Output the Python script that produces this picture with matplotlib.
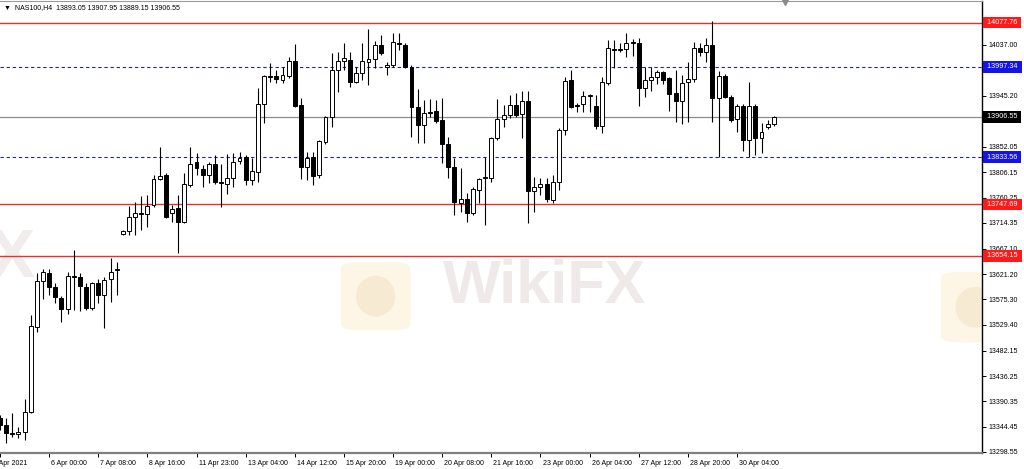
import matplotlib
matplotlib.use("Agg")
import matplotlib.pyplot as plt
from matplotlib.patches import FancyBboxPatch, Ellipse
from matplotlib.transforms import ScaledTranslation
import numpy as np

plt.rcParams['font.family'] = ['Liberation Sans', 'DejaVu Sans']

# ---------------- data (NAS100, H4) ----------------
opens = [13360.2, 13347.4, 13332.9, 13331.1, 13334.8, 13371.1, 13525.3, 13608.8, 13623.3, 13597.9,
         13577.9, 13558.0, 13617.8, 13616.0, 13597.9, 13559.8, 13605.1, 13583.3, 13612.4, 13628.7,
         13693.8, 13699.3, 13724.6, 13731.9, 13730.0, 13746.4, 13793.7, 13800.9, 13731.9, 13740.9,
         13715.5, 13782.8, 13824.6, 13811.8, 13800.9, 13820.9, 13788.2, 13784.6, 13795.5, 13826.4,
         13833.7, 13791.9, 13806.4, 13929.9, 13980.7, 13980.7, 13973.4, 13980.7, 14007.9, 13928.1,
         13815.5, 13833.7, 13800.9, 13860.9, 13906.3, 13991.6, 14007.9, 14009.8, 13969.8, 13986.1,
         14006.1, 14011.6, 14037.0, 13997.0, 14000.7, 14040.6, 14037.0, 13997.0, 13924.4, 13891.8,
         13915.4, 13917.2, 13900.9, 13857.3, 13815.5, 13750.0, 13757.3, 13731.9, 13773.7, 13795.5,
         13795.5, 13868.2, 13902.7, 13909.9, 13928.1, 13911.7, 13935.3, 13771.9, 13779.1, 13784.6,
         13755.5, 13788.2, 13882.7, 13973.4, 13928.1, 13929.9, 13944.4, 13926.3, 13890.0, 13968.0,
         14029.7, 14029.7, 14029.7, 14040.6, 14040.6, 13958.9, 13973.4, 13978.9, 13988.0, 13977.1,
         13949.9, 13935.3, 13969.8, 13975.3, 14031.5, 14024.3, 14037.0, 13940.8, 13980.7, 13942.6,
         13902.7, 13926.3, 13864.6, 13926.3, 13868.2, 13888.2, 13893.05]
closes = [13347.4, 13332.9, 13331.1, 13334.8, 13371.1, 13527.1, 13608.8, 13625.1, 13597.9, 13579.7,
          13558.0, 13617.8, 13616.0, 13599.7, 13559.8, 13605.1, 13583.3, 13610.6, 13625.1, 13630.5,
          13699.3, 13724.6, 13731.9, 13730.0, 13744.6, 13793.7, 13799.1, 13724.6, 13739.1, 13715.5,
          13784.6, 13820.9, 13813.7, 13800.9, 13820.9, 13788.2, 13786.4, 13795.5, 13824.6, 13831.9,
          13791.9, 13808.2, 13929.9, 13980.7, 13978.9, 13975.3, 13982.5, 14007.9, 13926.3, 13815.5,
          13831.9, 13799.1, 13862.7, 13906.3, 13991.6, 14007.9, 14013.4, 13969.8, 13986.1, 14007.9,
          14011.6, 14037.0, 14022.4, 14000.7, 14042.4, 14038.8, 13997.0, 13924.4, 13891.8, 13913.5,
          13913.5, 13899.0, 13857.3, 13815.5, 13751.9, 13757.3, 13731.9, 13775.5, 13793.7, 13797.3,
          13868.2, 13902.7, 13909.9, 13928.1, 13909.9, 13935.3, 13771.9, 13779.1, 13784.6, 13757.3,
          13788.2, 13882.7, 13971.6, 13924.4, 13926.3, 13944.4, 13946.2, 13890.0, 13969.8, 14031.5,
          14027.9, 14027.9, 14040.6, 14042.4, 13958.9, 13973.4, 13978.9, 13988.0, 13973.4, 13948.0,
          13935.3, 13968.0, 13975.3, 14031.5, 14024.3, 14037.0, 13940.8, 13980.7, 13942.6, 13900.9,
          13926.3, 13864.6, 13926.3, 13868.2, 13879.1, 13893.6, 13906.55]
highs = [13365.6, 13360.2, 13369.3, 13343.8, 13394.6, 13547.0, 13623.3, 13630.5, 13630.5, 13605.1,
         13581.5, 13625.1, 13664.8, 13623.3, 13605.1, 13607.0, 13612.4, 13616.0, 13650.5, 13643.2,
         13701.1, 13744.6, 13751.9, 13762.8, 13764.6, 13800.9, 13851.9, 13804.6, 13746.4, 13764.6,
         13804.6, 13851.9, 13840.9, 13819.1, 13824.6, 13837.3, 13820.9, 13839.1, 13840.9, 13842.8,
         13837.3, 13831.9, 13958.9, 13982.5, 14004.3, 13991.6, 13997.0, 14015.2, 14038.8, 13940.8,
         13842.8, 13842.8, 13864.6, 13908.1, 14022.4, 14024.3, 14040.6, 14024.3, 13997.0, 14040.6,
         14066.0, 14044.2, 14055.1, 14006.1, 14058.7, 14058.7, 14040.6, 14000.7, 13957.1, 13937.2,
         13939.0, 13937.2, 13940.8, 13870.0, 13831.9, 13813.7, 13768.2, 13779.1, 13795.5, 13833.7,
         13870.0, 13939.0, 13928.1, 13946.2, 13949.9, 13953.5, 13953.5, 13797.3, 13795.5, 13795.5,
         13800.9, 13886.4, 13978.9, 13991.6, 13931.7, 13953.5, 13948.0, 13946.2, 13978.9, 14046.0,
         14046.0, 14040.6, 14058.7, 14047.8, 14049.7, 13997.0, 13997.0, 13991.6, 13989.8, 13978.9,
         13991.6, 13982.5, 14006.1, 14042.4, 14040.6, 14049.7, 14080.5, 13989.8, 13984.3, 13946.2,
         13929.9, 13929.9, 13969.8, 13929.9, 13895.4, 13900.9, 13907.95]
lows = [13338.4, 13314.8, 13325.7, 13323.9, 13320.3, 13369.3, 13516.2, 13576.1, 13583.3, 13568.8,
        13534.4, 13548.9, 13556.1, 13554.3, 13556.1, 13556.1, 13568.8, 13523.5, 13570.7, 13583.3,
        13692.0, 13692.0, 13692.0, 13701.1, 13706.4, 13742.8, 13791.9, 13722.8, 13715.5, 13659.6,
        13713.7, 13779.1, 13800.9, 13779.1, 13786.4, 13784.6, 13742.8, 13766.4, 13779.1, 13820.9,
        13782.8, 13782.8, 13788.2, 13895.4, 13969.8, 13968.0, 13968.0, 13977.1, 13924.4, 13793.7,
        13791.9, 13782.8, 13795.5, 13857.3, 13888.2, 13951.7, 13991.6, 13960.7, 13968.0, 13973.4,
        13964.4, 13995.2, 14018.8, 13982.5, 13997.0, 14027.9, 13995.2, 13870.0, 13859.1, 13859.1,
        13906.3, 13895.4, 13822.8, 13795.5, 13728.2, 13733.7, 13715.5, 13728.2, 13750.0, 13710.0,
        13788.2, 13864.6, 13888.2, 13904.5, 13906.3, 13868.2, 13713.7, 13733.7, 13764.6, 13751.9,
        13750.0, 13773.7, 13873.6, 13922.6, 13915.4, 13915.4, 13915.4, 13884.5, 13877.3, 13964.4,
        13995.2, 14024.3, 14015.2, 14017.0, 13926.3, 13942.6, 13953.5, 13966.2, 13966.2, 13917.2,
        13897.2, 13893.6, 13897.2, 13969.8, 14017.0, 14006.1, 13897.2, 13833.7, 13940.8, 13897.2,
        13879.1, 13844.6, 13833.7, 13837.3, 13840.9, 13884.5, 13889.15]

date_tick_bars = [0, 8, 16, 24, 32, 40, 48, 56, 64, 72, 80, 88, 96, 104, 112, 120]
date_tick_labels = ["2 Apr 2021", "6 Apr 00:00", "7 Apr 08:00", "8 Apr 16:00", "11 Apr 23:00",
                    "13 Apr 04:00", "14 Apr 12:00", "15 Apr 20:00", "19 Apr 00:00", "20 Apr 08:00",
                    "21 Apr 16:00", "23 Apr 00:00", "26 Apr 04:00", "27 Apr 12:00", "28 Apr 20:00",
                    "30 Apr 04:00"]
price_ticks = [14082.90, 14037.00, 13991.10, 13945.20, 13899.30, 13852.05, 13806.15, 13760.25,
               13714.35, 13667.10, 13621.20, 13575.30, 13529.40, 13482.15, 13436.25, 13390.35,
               13344.45, 13298.55]
red_levels = [14077.76, 13747.69, 13654.15]
blue_levels = [13997.34, 13833.56]
bid_level = 13906.55
header = "NAS100,H4  13893.05 13907.95 13889.15 13906.55"

# ---------------- figure ----------------
W, H = 1024, 469
fig = plt.figure(figsize=(W / 100, H / 100), dpi=100)
fig.patch.set_facecolor('white')
ax = fig.add_axes([0, 16 / H, 982 / W, 452 / H])
ax.set_facecolor('white')

o = np.array(opens); c = np.array(closes); h = np.array(highs); l = np.array(lows)
x = np.arange(len(o))
ax.set_xlim(0.08, 159.9)
ax.set_ylim(13296.7, 14116.8)

# faint watermark
ax.text(0.555, 0.367, "WikiFX", transform=ax.transAxes, ha='center', va='center',
        fontsize=44, fontweight='bold', color='#efe9e9', zorder=0, family='Liberation Sans')
ax.text(0.012, 0.43, "X", transform=ax.transAxes, ha='center', va='center',
        fontsize=50, fontweight='bold', color='#f1eded', zorder=0, family='Liberation Sans')
for (x0, y0, w0, h0) in [(0.347, 0.272, 0.071, 0.15), (0.958, 0.245, 0.07, 0.155)]:
    ax.add_patch(FancyBboxPatch((x0, y0), w0, h0, boxstyle="round,pad=0,rounding_size=0.015",
                                transform=ax.transAxes, facecolor='#fdf6e6', edgecolor='none',
                                zorder=0, clip_on=True))
    ax.add_patch(Ellipse((x0 + w0 / 2, y0 + h0 / 2), 0.04, 0.09, transform=ax.transAxes,
                         facecolor='#f6ead2', edgecolor='none', zorder=0))

# level lines
for lv in red_levels:
    ax.axhline(lv, color='#e8312f', lw=1.0, zorder=1)
for lv in blue_levels:
    ax.axhline(lv, color='#23239a', lw=0.8, ls=(0, (3, 2.5)), zorder=1)
ax.axhline(bid_level, color='#8c8c8c', lw=0.9, zorder=1)

# candles
ax.vlines(x, l, h, color='black', lw=0.8, zorder=2)
bottoms = np.minimum(o, c)
heights = np.maximum(np.abs(c - o), 0.6)
fills = np.where(c >= o, 'white', 'black')
ax.bar(x, heights, bottom=bottoms, width=0.64, color=fills, edgecolor='black',
       linewidth=0.7, zorder=3)

# spines
ax.spines['left'].set_visible(False)
ax.spines['top'].set_color('#9a9a9a'); ax.spines['top'].set_linewidth(0.8)
ax.spines['right'].set_color('black'); ax.spines['right'].set_linewidth(1.0)
ax.spines['bottom'].set_color('#808080'); ax.spines['bottom'].set_linewidth(1.6)

# y axis on the right
ax.yaxis.tick_right()
ax.set_yticks(price_ticks)
ax.set_yticklabels([f"{v:.2f}" for v in price_ticks])
ax.tick_params(axis='y', direction='out', length=3, width=0.7, pad=2, labelsize=5,
               colors='black')

# x axis
ax.set_xticks(date_tick_bars)
ax.set_xticklabels(date_tick_labels)
ax.tick_params(axis='x', direction='out', length=3, width=0.7, pad=2, labelsize=5)
for i, lab in enumerate(ax.get_xticklabels()):
    lab.set_ha('left')
    dx = -5 / 72 if i == 0 else 1.5 / 72
    lab.set_transform(lab.get_transform() + ScaledTranslation(dx, 0, fig.dpi_scale_trans))

# price labels on the axis
ytr = ax.get_yaxis_transform()
def price_tag(lv, col):
    ax.text(1.003, lv, f" {lv:.2f} ", transform=ytr, ha='left', va='center', fontsize=5.2,
            color='white', clip_on=False, zorder=6,
            bbox=dict(boxstyle='square,pad=0.3', facecolor=col, edgecolor='none'))
for lv in red_levels:
    price_tag(lv, '#ff1a1a')
for lv in blue_levels:
    price_tag(lv, '#1414e6')
price_tag(bid_level, 'black')

# header
ax.text(0.004, 0.986, "\u25BC  " + header, transform=ax.transAxes, ha='left', va='center',
        fontsize=5, color='black', zorder=7, family=['Liberation Sans', 'DejaVu Sans'])
ax.plot([0.7994], [0.997], marker='v', markersize=4, color='#8a8a8a', transform=ax.transAxes,
        clip_on=False, zorder=7)

fig.savefig("out.png", dpi=100, facecolor='white')
